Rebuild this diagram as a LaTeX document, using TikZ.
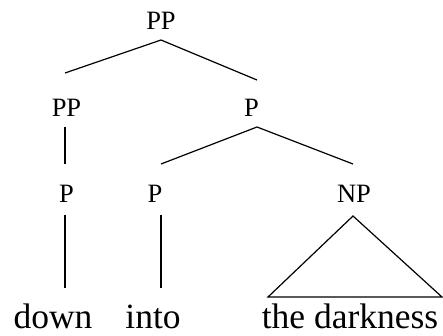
\documentclass[tikz,border=0pt]{standalone}
\usepackage{fontspec}
\setmainfont{Liberation Serif}
\newfontfamily\treefont{Liberation Serif}
\usetikzlibrary{calc}
\begin{document}
\begin{tikzpicture}[x=1pt,y=-1pt,
  catlabel/.style={anchor=base,inner sep=0pt,font=\treefont\fontsize{26.5}{27}\selectfont},
  wordlabel/.style={anchor=base,inner sep=0pt,font=\treefont\fontsize{35.5}{36}\selectfont},
  edge/.style={line width=1.2pt,line join=miter}]
\useasboundingbox (0,0) rectangle (443,335);
% labels
\node[catlabel] (top) at (161,29.5) {PP};
\node[catlabel] (ppm) at (66.5,116) {PP};
\node[catlabel] (pm)  at (251.5,116) {P};
\node[catlabel] (pl)  at (66.5,202) {P};
\node[catlabel] (pi)  at (155,202) {P};
\node[catlabel] (np)  at (354,202) {NP};
% words
\node[wordlabel] (wd) at (53,328) {down};
\node[wordlabel] (wi) at (153,328) {into};
\node[wordlabel] (wt) at (350,328) {the darkness};
% edges
\draw[edge] ($(ppm.base)+(-1.5,-43)$) -- ($(top.base)+(0,10.5)$) -- ($(pm.base)+(5.5,-36)$);
\draw[edge] ($(ppm.base)+(-1.5,11)$) -- ($(pl.base)+(-1.5,-38)$);
\draw[edge] ($(pi.base)+(6,-38)$) -- ($(pm.base)+(5.5,11)$) -- ($(np.base)+(-1,-38)$);
\draw[edge] ($(pl.base)+(-1.5,13)$) -- ($(wd.base)+(12,-40)$);
\draw[edge] ($(pi.base)+(6,13)$) -- ($(wi.base)+(8,-40)$);
\draw[edge] ($(np.base)+(-1,14)$) -- ($(wt.base)+(92,-31)$) -- ($(wt.base)+(-82,-31)$) -- cycle;
\end{tikzpicture}
\end{document}
